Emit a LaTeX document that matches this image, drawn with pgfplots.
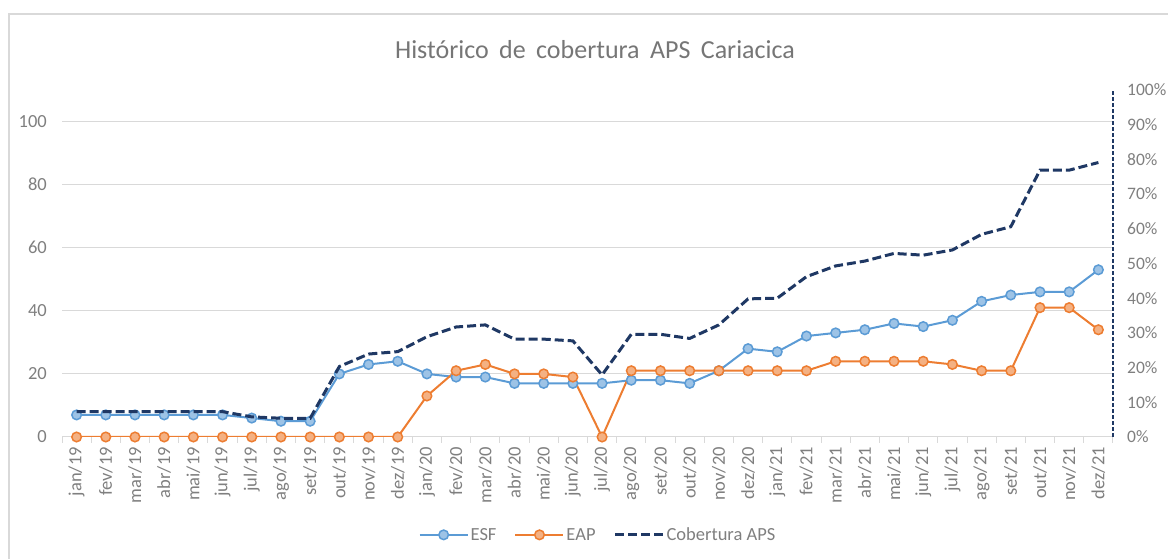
\documentclass[border=0pt]{standalone}
\usepackage{pgfplots}
\pgfplotsset{compat=1.18}
\usepackage{fontspec}
\setmainfont{Carlito}
\definecolor{esf}{HTML}{5B9BD5}
\definecolor{esffill}{HTML}{9DC3E6}
\definecolor{eap}{HTML}{ED7D31}
\definecolor{eapfill}{HTML}{F4B183}
\definecolor{cob}{HTML}{1F3864}
\definecolor{gridc}{HTML}{D9D9D9}
\definecolor{txt}{HTML}{7F7F7F}
\definecolor{ttl}{HTML}{767676}
\begin{document}
\begin{tikzpicture}[x=1bp,y=1bp]
\path[use as bounding box] (0,0) rectangle (1168,559);
\draw[gridc, line width=1.5bp] (9,-2) -- (9,545) -- (1170,545);
\node[ttl, font=\fontsize{26bp}{30bp}\selectfont] at (595,509) {\spaceskip=0.4em Histórico de cobertura APS Cariacica};
\pgfplotsset{
  myaxis/.style={
    scale only axis, width=1051bp, height=347bp,
    at={(62bp,122bp)}, anchor=south west,
    xmin=-0.5, xmax=35.5,
    ticklabel style={font=\fontsize{18.5bp}{22bp}\selectfont, text=txt},
    /pgf/number format/assume math mode=true,
  }
}
\begin{axis}[myaxis,
  axis y line*=left, axis x line*=bottom,
  ymin=0, ymax=110, ytick={0,20,40,60,80,100},
  ymajorgrids, grid style={gridc, line width=1bp},
  y axis line style={draw=none},
  x axis line style={gridc, line width=1bp, -},
  xtick={0,...,35},
  xticklabels={jan/19,fev/19,mar/19,abr/19,mai/19,jun/19,jul/19,ago/19,set/19,out/19,nov/19,dez/19,jan/20,fev/20,mar/20,abr/20,mai/20,jun/20,jul/20,ago/20,set/20,out/20,nov/20,dez/20,jan/21,fev/21,mar/21,abr/21,mai/21,jun/21,jul/21,ago/21,set/21,out/21,nov/21,dez/21},
  x tick label style={rotate=90, anchor=east, inner sep=0pt},
  y tick label style={inner sep=0pt},
  xticklabel shift=10bp, yticklabel shift=15bp,
  major tick length=0pt,
  minor xtick={-0.5,0.5,...,35.5},
  minor tick length=6bp, tick align=outside,
  minor tick style={gridc, line width=1bp},
  legend style={at={(axis description cs:0.51,-0.282)}, anchor=center, draw=none, fill=none,
    legend columns=3, font=\fontsize{18.5bp}{22bp}\selectfont, text=txt,
    /tikz/every even column/.append style={column sep=16bp}},
  legend image code/.code={\draw[mark repeat=2,mark phase=2,#1] plot coordinates {(0bp,0bp) (24bp,0bp) (48bp,0bp)};},
]
\addplot[esf, line width=2bp, mark=*, mark size=4.8bp, mark options={fill=esffill, draw=esf, line width=1.5bp, solid}] coordinates {
(0,7) (1,7) (2,7) (3,7) (4,7) (5,7) (6,6) (7,5) (8,5) (9,20) (10,23) (11,24)
(12,20) (13,19) (14,19) (15,17) (16,17) (17,17) (18,17) (19,18) (20,18) (21,17) (22,21) (23,28)
(24,27) (25,32) (26,33) (27,34) (28,36) (29,35) (30,37) (31,43) (32,45) (33,46) (34,46) (35,53)};
\addlegendentry{ESF}
\addplot[eap, line width=2bp, mark=*, mark size=4.8bp, mark options={fill=eapfill, draw=eap, line width=1.5bp, solid}] coordinates {
(0,0) (1,0) (2,0) (3,0) (4,0) (5,0) (6,0) (7,0) (8,0) (9,0) (10,0) (11,0)
(12,13) (13,21) (14,23) (15,20) (16,20) (17,19) (18,0) (19,21) (20,21) (21,21) (22,21) (23,21)
(24,21) (25,21) (26,24) (27,24) (28,24) (29,24) (30,23) (31,21) (32,21) (33,41) (34,41) (35,34)};
\addlegendentry{EAP}
\addlegendimage{cob, line width=3bp, dash pattern=on 9bp off 4bp}
\addlegendentry{Cobertura APS}
\end{axis}
\begin{axis}[myaxis,
  axis y line*=right, axis x line=none,
  ymin=0, ymax=1,
  ytick={0,0.1,0.2,0.3,0.4,0.5,0.6,0.7,0.8,0.9,1},
  yticklabels={0\%,10\%,20\%,30\%,40\%,50\%,60\%,70\%,80\%,90\%,100\%},
  y axis line style={cob, line width=1.5bp, dash pattern=on 4bp off 2bp, -},
  major tick length=0pt,
  y tick label style={inner sep=0pt, font=\fontsize{17.5bp}{21bp}\selectfont},
  yticklabel shift=14bp,
]
\addplot[cob, line width=3bp, dash pattern=on 9bp off 4bp, mark=none] coordinates {
(0,0.073) (1,0.073) (2,0.073) (3,0.073) (4,0.073) (5,0.073) (6,0.058) (7,0.054) (8,0.054) (9,0.203) (10,0.239) (11,0.246)
(12,0.289) (13,0.317) (14,0.323) (15,0.282) (16,0.282) (17,0.277) (18,0.179) (19,0.296) (20,0.296) (21,0.284) (22,0.323) (23,0.398)
(24,0.400) (25,0.462) (26,0.493) (27,0.507) (28,0.529) (29,0.524) (30,0.539) (31,0.584) (32,0.606) (33,0.769) (34,0.769) (35,0.791)};
\end{axis}
\end{tikzpicture}
\end{document}
